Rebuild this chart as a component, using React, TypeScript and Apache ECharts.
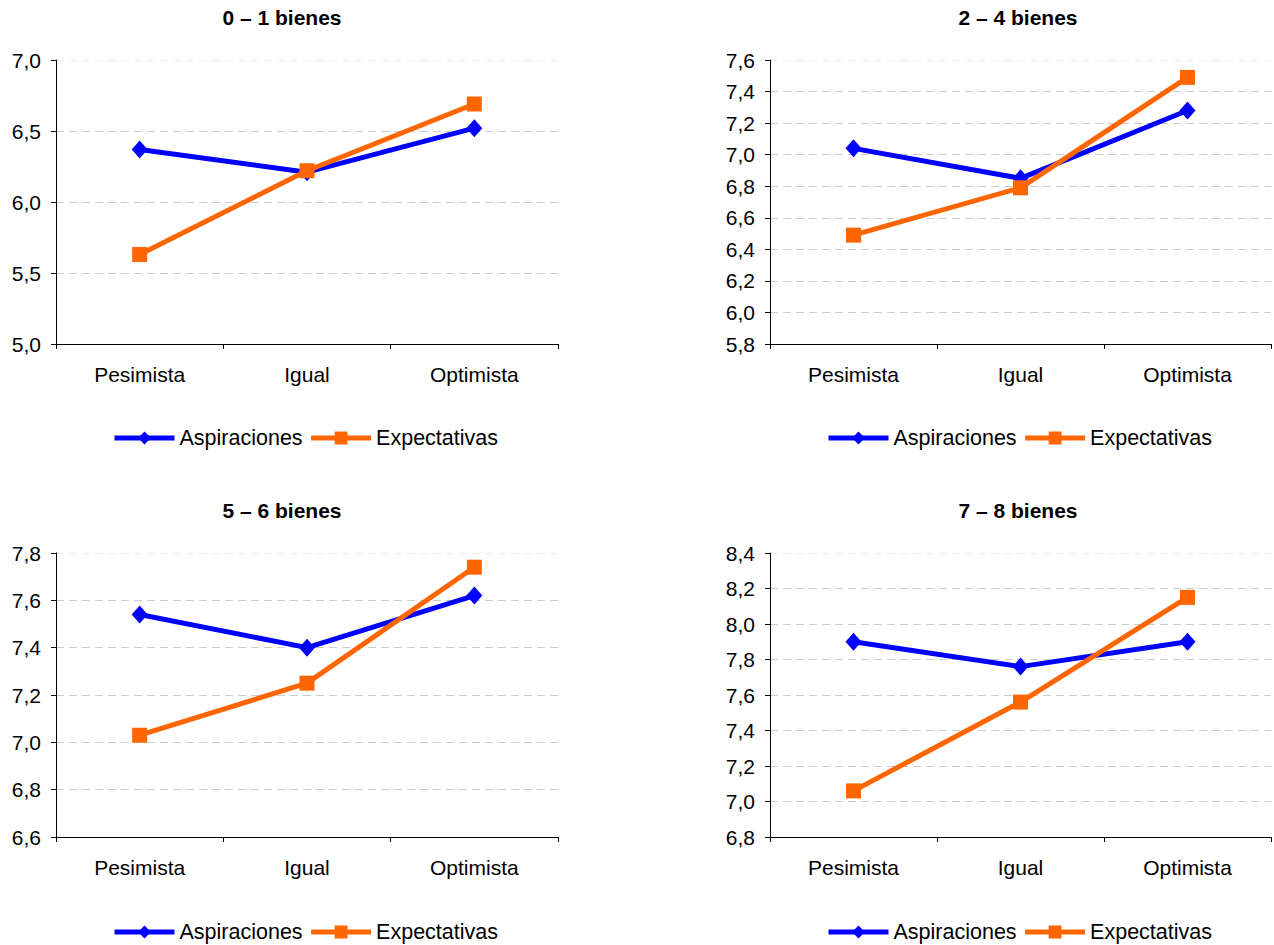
import React, { useEffect, useRef } from "react";
import * as echarts from "echarts";

const categories = ["Pesimista", "Igual", "Optimista"];
const seriesNames = ["Aspiraciones", "Expectativas"];
const panelTitles = ["0 – 1 bienes", "2 – 4 bienes", "5 – 6 bienes", "7 – 8 bienes"];

const aspiraciones01 = [6.37, 6.21, 6.52];
const expectativas01 = [5.63, 6.22, 6.69];
const aspiraciones24 = [7.04, 6.85, 7.28];
const expectativas24 = [6.49, 6.79, 7.49];
const aspiraciones56 = [7.54, 7.40, 7.62];
const expectativas56 = [7.03, 7.25, 7.74];
const aspiraciones78 = [7.90, 7.76, 7.90];
const expectativas78 = [7.06, 7.56, 8.15];

const yMins = [5.0, 5.8, 6.6, 6.8];
const yMaxs = [7.0, 7.6, 7.8, 8.4];
const yIntervals = [0.5, 0.2, 0.2, 0.2];

const FONT = 'Arial, "Liberation Sans", sans-serif';
const BLUE = "#0000FF";
const ORANGE = "#FF6600";

export default function App() {
  const ref = useRef<HTMLDivElement>(null);
  useEffect(() => {
    if (!ref.current) return;
    const chart = echarts.init(ref.current, undefined, { renderer: "svg" });

    const aspData = [aspiraciones01, aspiraciones24, aspiraciones56, aspiraciones78];
    const expData = [expectativas01, expectativas24, expectativas56, expectativas78];

    const grids = [
      { left: 56, top: 60, width: 502, height: 284 },
      { left: 770, top: 60, width: 501, height: 284 },
      { left: 56, top: 553, width: 502, height: 284 },
      { left: 770, top: 553, width: 501, height: 284 },
    ];
    const titleCenters = [
      [282, 7],
      [1018, 7],
      [282, 500],
      [1018, 500],
    ];
    const legendPos = [
      [112, 427],
      [826, 427],
      [112, 921],
      [826, 921],
    ];

    const option: any = {
      animation: false,
      backgroundColor: "#ffffff",
      title: panelTitles.map((t, i) => ({
        text: t,
        left: titleCenters[i][0],
        top: titleCenters[i][1],
        textAlign: "center",
        padding: 0,
        textStyle: { fontFamily: FONT, fontSize: 21, fontWeight: "bold", color: "#000" },
      })),
      legend: legendPos.map((p) => ({
        data: seriesNames,
        left: p[0],
        top: p[1],
        padding: 0,
        itemWidth: 60,
        itemHeight: 16,
        itemGap: 6,
        lineStyle: { width: 5 },
        textStyle: { fontFamily: FONT, fontSize: 21.5, color: "#000" },
      })),
      grid: grids,
      xAxis: grids.map((_, i) => ({
        type: "category",
        gridIndex: i,
        data: categories,
        boundaryGap: true,
        axisLine: { lineStyle: { color: "#000", width: 1 } },
        axisTick: { show: true, length: 5, lineStyle: { color: "#000" } },
        axisLabel: { fontFamily: FONT, fontSize: 21, color: "#000", margin: 20 },
        splitLine: { show: false },
      })),
      yAxis: grids.map((_, i) => {
        const n = Math.round((yMaxs[i] - yMins[i]) / yIntervals[i]);
        const colors: string[] = [];
        for (let k = 0; k <= n; k++) colors.push(k === n ? "#ededed" : "#cccccc");
        return {
          type: "value",
          gridIndex: i,
          min: yMins[i],
          max: yMaxs[i],
          interval: yIntervals[i],
          axisLine: { show: true, lineStyle: { color: "#000", width: 1 } },
          axisTick: { show: true, length: 5, lineStyle: { color: "#000" } },
          axisLabel: {
            fontFamily: FONT,
            fontSize: 21,
            color: "#000",
            margin: 15,
            formatter: (v: number) => v.toFixed(1).replace(".", ","),
          },
          splitLine: {
            show: true,
            lineStyle: { color: colors, type: [8, 5], width: 1 },
          },
        };
      }),
      series: [] as any[],
    };

    for (let i = 0; i < 4; i++) {
      option.series.push({
        name: seriesNames[0],
        type: "line",
        xAxisIndex: i,
        yAxisIndex: i,
        data: aspData[i],
        symbol: "diamond",
        symbolSize: [16, 18],
        lineStyle: { color: BLUE, width: 5 },
        itemStyle: { color: BLUE },
        z: 3,
      });
      option.series.push({
        name: seriesNames[1],
        type: "line",
        xAxisIndex: i,
        yAxisIndex: i,
        data: expData[i],
        symbol: "rect",
        symbolSize: 15,
        lineStyle: { color: ORANGE, width: 5 },
        itemStyle: { color: ORANGE },
        z: 4,
      });
    }

    chart.setOption(option);
    return () => chart.dispose();
  }, []);

  return (
    <div
      ref={ref}
      style={{ position: "fixed", left: 0, top: 0, width: 1274, height: 945, background: "#fff" }}
    />
  );
}
